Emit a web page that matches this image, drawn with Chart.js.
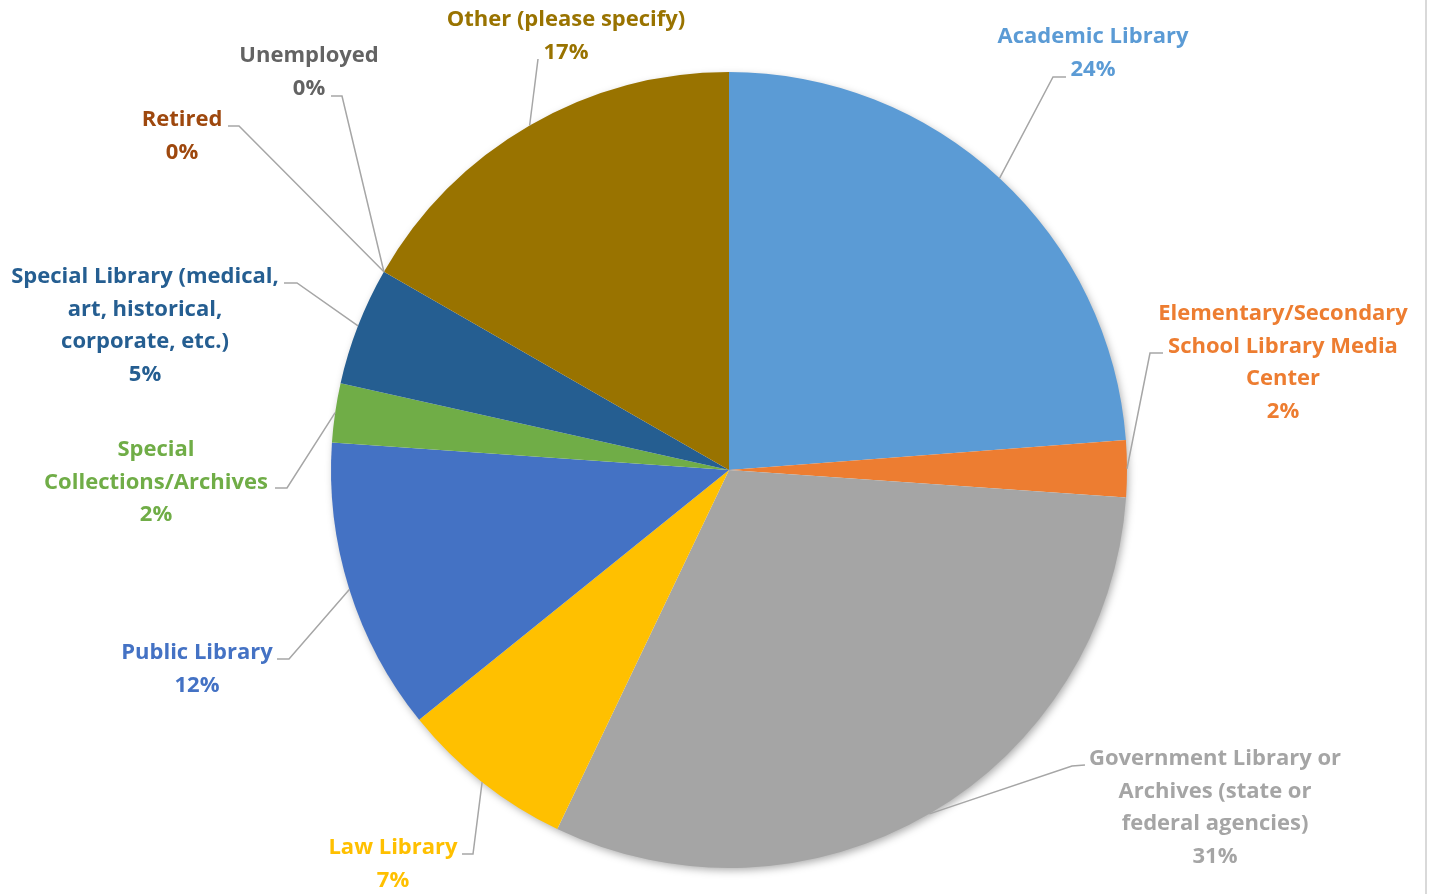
<!DOCTYPE html>
<html>
<head>
<meta charset="utf-8">
<script src="https://cdn.jsdelivr.net/npm/chart.js@4/dist/chart.umd.min.js"></script>
<style>
  html, body { margin: 0; padding: 0; background: #fff; }
  canvas { display: block; }
</style>
</head>
<body>
<canvas id="pieChart" width="1431" height="894"></canvas>
<script>
// categories, as the labels wrap in the picture
var categories = [
    ['Academic Library'],
    ['Elementary/Secondary', 'School Library Media', 'Center'],
    ['Government Library or', 'Archives (state or', 'federal agencies)'],
    ['Law Library'],
    ['Public Library'],
    ['Special', 'Collections/Archives'],
    ['Special Library (medical,', 'art, historical,', 'corporate, etc.)'],
    ['Retired'],
    ['Unemployed'],
    ['Other (please specify)']
];

// share of respondents, %
var shares = [23.8, 2.3, 31.0, 7.1, 11.9, 2.4, 4.8, 0, 0, 16.7];

var colors = ['#5B9BD5', '#ED7D31', '#A5A5A5', '#FFC000', '#4472C4',
              '#70AD47', '#255E91', '#9E480E', '#636363', '#997300'];

// label block placement: text centre x, first line y, leader stub (text end -> elbow)
var labelLayout = [
    { x: 1093, y: 37,  stub: [[1066, 77], [1053, 77]] },
    { x: 1283, y: 314, stub: [[1163, 353], [1150, 353]] },
    { x: 1215, y: 759, stub: [[1085, 765], [1072, 766]] },
    { x: 393,  y: 848, stub: [[462, 854], [473, 854]] },
    { x: 197,  y: 653, stub: [[277, 659], [289, 659]] },
    { x: 156,  y: 450, stub: [[275, 488], [287, 488]] },
    { x: 145,  y: 277, stub: [[284, 283], [297, 283]] },
    { x: 182,  y: 120, stub: [[228, 126], [239, 126]] },
    { x: 309,  y: 56,  stub: [[331, 96], [342, 96]] },
    { x: 566,  y: 20,  stub: [[538, 59], [538, 59]] }
];

var FONT = 'bold 22px "Open Sans", Lato, sans-serif';
var LINE_H = 32.5;

var pieExtras = {
    id: 'pieExtras',
    beforeDatasetsDraw: function (chart) {
        var arc = chart.getDatasetMeta(0).data[0];
        if (!arc) return;
        var ctx = chart.ctx;
        ctx.save();
        ctx.shadowColor = 'rgba(0,0,0,0.35)';
        ctx.shadowBlur = 9;
        ctx.shadowOffsetX = 2;
        ctx.shadowOffsetY = 3;
        ctx.fillStyle = '#fff';
        ctx.beginPath();
        ctx.arc(arc.x, arc.y, arc.outerRadius - 1, 0, Math.PI * 2);
        ctx.fill();
        ctx.restore();
    },
    afterDatasetsDraw: function (chart) {
        var ctx = chart.ctx;
        var arcs = chart.getDatasetMeta(0).data;
        ctx.save();

        // frame edge on the right
        ctx.strokeStyle = '#D9D9D9';
        ctx.lineWidth = 2;
        ctx.beginPath();
        ctx.moveTo(1426, 0);
        ctx.lineTo(1426, 894);
        ctx.stroke();

        arcs.forEach(function (a, i) {
            var mid = (a.startAngle + a.endAngle) / 2;
            var px = a.x + Math.cos(mid) * a.outerRadius;
            var py = a.y + Math.sin(mid) * a.outerRadius;
            var st = labelLayout[i].stub;

            ctx.strokeStyle = '#A6A6A6';
            ctx.lineWidth = 1.5;
            ctx.beginPath();
            ctx.moveTo(st[0][0], st[0][1]);
            ctx.lineTo(st[1][0], st[1][1]);
            ctx.lineTo(px, py);
            ctx.stroke();

            var lines = categories[i].concat([Math.round(shares[i]) + '%']);
            ctx.font = FONT;
            ctx.fillStyle = colors[i];
            ctx.textAlign = 'center';
            ctx.textBaseline = 'middle';
            lines.forEach(function (t, k) {
                ctx.fillText(t, labelLayout[i].x, labelLayout[i].y + k * LINE_H);
            });
        });
        ctx.restore();
    }
};

new Chart(document.getElementById('pieChart'), {
    type: 'pie',
    data: {
        labels: categories.map(function (c) { return c.join(' '); }),
        datasets: [{
            data: shares,
            backgroundColor: colors,
            borderWidth: 0,
            hoverBorderWidth: 0,
            hoverOffset: 0
        }]
    },
    options: {
        responsive: false,
        animation: false,
        events: [],
        layout: { padding: { left: 331, right: 304, top: 72, bottom: 26 } },
        plugins: {
            legend: { display: false },
            tooltip: { enabled: false }
        }
    },
    plugins: [pieExtras]
});
</script>
</body>
</html>
